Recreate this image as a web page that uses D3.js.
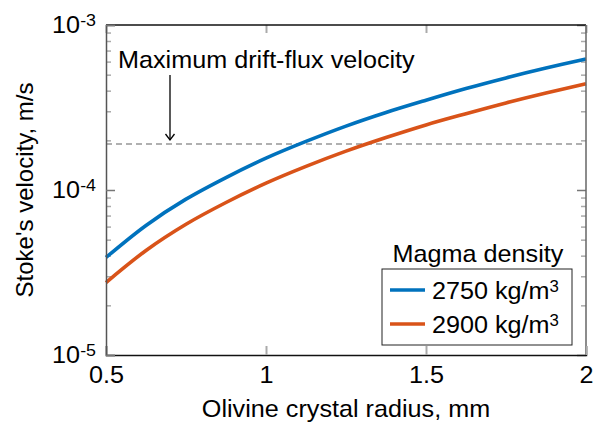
<!DOCTYPE html>
<html>
<head>
<meta charset="utf-8">
<script src="https://cdn.jsdelivr.net/npm/d3@7"></script>
<style>
  body { margin: 0; background: #fff; }
  text { font-family: "Liberation Sans", Arial, sans-serif; fill: #000; }
</style>
</head>
<body>
<svg id="chart" width="593" height="423"></svg>
<script>
// radius in mm, velocities in m/s
const radius = [0.5, 0.625, 0.75, 0.875, 1.0, 1.125, 1.25, 1.375, 1.5, 1.625, 1.75, 1.875, 2.0];
const v2750 = [3.9e-5, 6.1e-5, 8.8e-5, 1.19e-4, 1.56e-4, 1.97e-4, 2.44e-4, 2.95e-4, 3.5e-4, 4.12e-4, 4.78e-4, 5.48e-4, 6.22e-4];
const v2900 = [2.75e-5, 4.3e-5, 6.2e-5, 8.4e-5, 1.1e-4, 1.39e-4, 1.72e-4, 2.08e-4, 2.48e-4, 2.9e-4, 3.37e-4, 3.87e-4, 4.4e-4];
const seriesNames = ["2750 kg/m", "2900 kg/m"];
const seriesColors = ["#0072BD", "#D95319"];
const driftFlux = 1.9e-4;
const xTicks = [0.5, 1, 1.5, 2];
const yTicks = [1e-5, 1e-4, 1e-3];
const yExp = ["-5", "-4", "-3"];

const width = 593, height = 423;
const margin = {top: 25, right: 7, bottom: 68, left: 106};
const fs = 24;
const sx = 1.05; // glyphs in the picture are a bit wider than Liberation Sans

const svg = d3.select("#chart");

// widen a text element around its own x anchor
function stretch(sel, k = sx) {
  sel.each(function() {
    const t = d3.select(this);
    const ax = +t.attr("x") || 0;
    const old = t.attr("transform") || "";
    t.attr("transform", `${old} translate(${ax},0) scale(${k},1) translate(${-ax},0)`);
  });
}

const x = d3.scaleLinear()
  .domain([0.5, 2])
  .range([margin.left, width - margin.right]);
const y = d3.scaleLog()
  .domain([1e-5, 1e-3])
  .range([height - margin.bottom, margin.top]);

// minor log ticks
let minor = [];
[1e-5, 1e-4].forEach(d => { for (let k = 2; k <= 9; k++) minor.push(d * k); });

// minor ticks left / right
svg.append("g")
  .attr("transform", `translate(${margin.left},0)`)
  .call(d3.axisLeft(y).tickValues(minor).tickSize(-5).tickFormat(""))
  .call(g => g.select(".domain").remove())
  .call(g => g.selectAll(".tick line").attr("stroke", "#aaa").attr("stroke-width", 1.5));
svg.append("g")
  .attr("transform", `translate(${width - margin.right},0)`)
  .call(d3.axisRight(y).tickValues(minor).tickSize(-5).tickFormat(""))
  .call(g => g.select(".domain").remove())
  .call(g => g.selectAll(".tick line").attr("stroke", "#aaa").attr("stroke-width", 1.5));

// x ticks top (no labels)
svg.append("g")
  .attr("transform", `translate(0,${margin.top})`)
  .call(d3.axisTop(x).tickValues(xTicks).tickSize(-8).tickFormat(""))
  .call(g => g.select(".domain").remove())
  .call(g => g.selectAll(".tick line").attr("stroke", "#aaa").attr("stroke-width", 2));

// y axis right (major ticks only)
svg.append("g")
  .attr("transform", `translate(${width - margin.right},0)`)
  .call(d3.axisRight(y).tickValues(yTicks).tickSize(-9).tickFormat(""))
  .call(g => g.select(".domain").remove())
  .call(g => g.selectAll(".tick line").attr("stroke", "#777").attr("stroke-width", 1.5));

// dashed drift-flux line
svg.append("line")
  .attr("x1", x(0.5)).attr("x2", x(2))
  .attr("y1", y(driftFlux)).attr("y2", y(driftFlux))
  .attr("stroke", "#b0b0b0")
  .attr("stroke-width", 2)
  .attr("stroke-dasharray", "6,4");

// lines
const line = d3.line()
  .x((d, i) => x(radius[i]))
  .y(d => y(d))
  .curve(d3.curveCatmullRom);

svg.append("g")
  .attr("fill", "none")
  .attr("stroke-width", 3.6)
  .attr("stroke-linejoin", "round")
  .selectAll("path")
  .data([v2750, v2900])
  .join("path")
  .attr("stroke", (d, i) => seriesColors[i])
  .attr("d", line);

// frame: top & right
svg.append("line")
  .attr("x1", margin.left).attr("x2", width - margin.right)
  .attr("y1", margin.top).attr("y2", margin.top)
  .attr("stroke", "#111").attr("stroke-width", 1.5);
svg.append("line")
  .attr("x1", width - margin.right).attr("x2", width - margin.right)
  .attr("y1", margin.top).attr("y2", height - margin.bottom)
  .attr("stroke", "#666").attr("stroke-width", 1.5);

// x axis bottom
svg.append("g")
  .attr("transform", `translate(0,${height - margin.bottom})`)
  .call(d3.axisBottom(x).tickValues(xTicks).tickSize(-9).tickPadding(11).tickFormat(d3.format("")))
  .call(g => g.select(".domain").attr("stroke", "#111").attr("stroke-width", 1.5))
  .call(g => g.selectAll(".tick line").attr("stroke", "#aaa").attr("stroke-width", 2))
  .call(g => g.selectAll(".tick text").attr("font-size", fs).attr("fill", "#000").call(stretch));

// y axis left
svg.append("g")
  .attr("transform", `translate(${margin.left},0)`)
  .call(d3.axisLeft(y).tickValues(yTicks).tickSize(-9).tickPadding(10).tickFormat(""))
  .call(g => g.select(".domain").attr("stroke", "#555").attr("stroke-width", 1.5))
  .call(g => g.selectAll(".tick line").attr("stroke", "#777").attr("stroke-width", 1.5))
  .call(g => g.selectAll(".tick text").each(function(d, i) {
    const t = d3.select(this).attr("font-size", fs).attr("fill", "#000").text("10");
    t.append("tspan").attr("dy", "-0.45em").attr("font-size", 17).text(yExp[i]);
  }).call(stretch));

// axis labels
svg.append("text")
  .attr("x", (x(0.5) + x(2)) / 2)
  .attr("y", 417)
  .attr("text-anchor", "middle")
  .attr("font-size", fs)
  .text("Olivine crystal radius, mm")
  .call(stretch);

svg.append("text")
  .attr("transform", `translate(33,${(y(1e-5) + y(1e-3)) / 2}) rotate(-90)`)
  .attr("text-anchor", "middle")
  .attr("font-size", fs)
  .text("Stoke's velocity, m/s");

// annotation
svg.append("text")
  .attr("x", 118)
  .attr("y", 68)
  .attr("font-size", fs)
  .text("Maximum drift-flux velocity")
  .call(stretch);

const ay = y(driftFlux) - 4;
svg.append("line")
  .attr("x1", 170).attr("x2", 170)
  .attr("y1", 75).attr("y2", ay)
  .attr("stroke", "#000").attr("stroke-width", 1.3);
svg.append("path")
  .attr("d", `M${170 - 4.5},${ay - 6} L170,${ay} L${170 + 4.5},${ay - 6}`)
  .attr("fill", "none").attr("stroke", "#000").attr("stroke-width", 1.3);

// legend
const lg = svg.append("g");
lg.append("text")
  .attr("x", 478).attr("y", 262)
  .attr("text-anchor", "middle")
  .attr("font-size", fs)
  .text("Magma density")
  .call(stretch);
lg.append("rect")
  .attr("x", 382).attr("y", 269)
  .attr("width", 190).attr("height", 76)
  .attr("fill", "#fff").attr("stroke", "#222").attr("stroke-width", 1);
seriesNames.forEach((name, i) => {
  const cy = 290 + i * 34;
  lg.append("line")
    .attr("x1", 390).attr("x2", 425)
    .attr("y1", cy).attr("y2", cy)
    .attr("stroke", seriesColors[i]).attr("stroke-width", 3.6);
  const t = lg.append("text")
    .attr("x", 432).attr("y", cy + 9)
    .attr("font-size", fs)
    .text(name);
  t.append("tspan").attr("dy", "-0.45em").attr("font-size", 16).text("3");
  t.call(stretch);
});
</script>
</body>
</html>
